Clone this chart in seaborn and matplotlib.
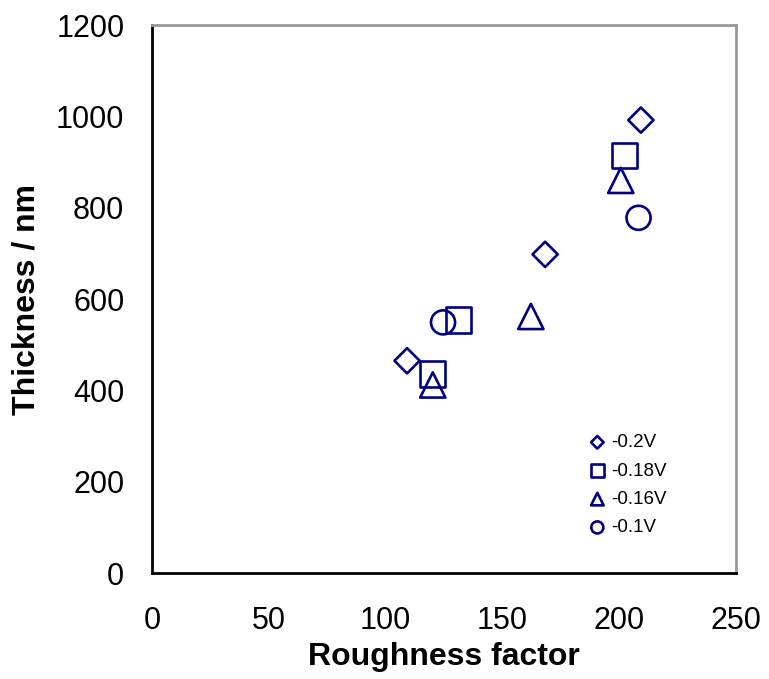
import matplotlib
matplotlib.use("Agg")
import matplotlib.pyplot as plt
import seaborn as sns
import pandas as pd

sns.set_theme(style="white")
plt.rcParams['font.family'] = ['Liberation Sans', 'DejaVu Sans']
plt.rcParams['text.color'] = 'black'
plt.rcParams['axes.labelcolor'] = 'black'
plt.rcParams['xtick.color'] = 'black'
plt.rcParams['ytick.color'] = 'black'

labels = ["-0.2V", "-0.18V", "-0.16V", "-0.1V"]
x_02 = [109.2, 168.3, 209.3]
y_02 = [465, 698, 992]
x_018 = [120.2, 131.3, 202.3]
y_018 = [436, 554, 914]
x_016 = [120.2, 162.2, 200.7]
y_016 = [412, 562, 860]
x_01 = [124.6, 208.3]
y_01 = [549, 778]

xs = [x_02, x_018, x_016, x_01]
ys = [y_02, y_018, y_016, y_01]
markers = ["D", "s", "^", "o"]
sizes = [165, 330, 330, 300]
navy = "#000080"

fig = plt.figure(figsize=(7.69, 6.79), dpi=100)
ax = fig.add_axes([0.1977, 0.156, 0.7593, 0.807])

for lab, xv, yv, m, s in zip(labels, xs, ys, markers, sizes):
    df = pd.DataFrame({"x": xv, "y": yv})
    sns.scatterplot(data=df, x="x", y="y", marker=m, s=s, ax=ax, label=lab,
                    facecolor="none", edgecolor=navy, linewidth=1.9)

ax.set_xlim(0, 250)
ax.set_ylim(0, 1200)
ax.set_xticks([0, 50, 100, 150, 200, 250])
ax.set_yticks([0, 200, 400, 600, 800, 1000, 1200])
ax.tick_params(direction="in", length=10, width=1.5, labelsize=22,
               colors="black")
ax.tick_params(axis="y", pad=20)
ax.tick_params(axis="x", pad=24)
for sp in ["left", "bottom"]:
    ax.spines[sp].set_color("black")
    ax.spines[sp].set_linewidth(2)
for sp in ["top", "right"]:
    ax.spines[sp].set_color("#999999")
    ax.spines[sp].set_linewidth(2)

ax.set_xlabel("Roughness factor", fontsize=23, fontweight="bold", labelpad=4)
ax.set_ylabel("Thickness / nm", fontsize=23, fontweight="bold", labelpad=10)

ax.legend(loc="upper left", bbox_to_anchor=((588 - 152) / 584, (573 - 434) / 548),
          frameon=False, markerscale=0.5, fontsize=13.5, handlelength=1.0,
          handletextpad=0.25, labelspacing=0.6, borderaxespad=0, borderpad=0)

fig.savefig("out.png", dpi=100)
